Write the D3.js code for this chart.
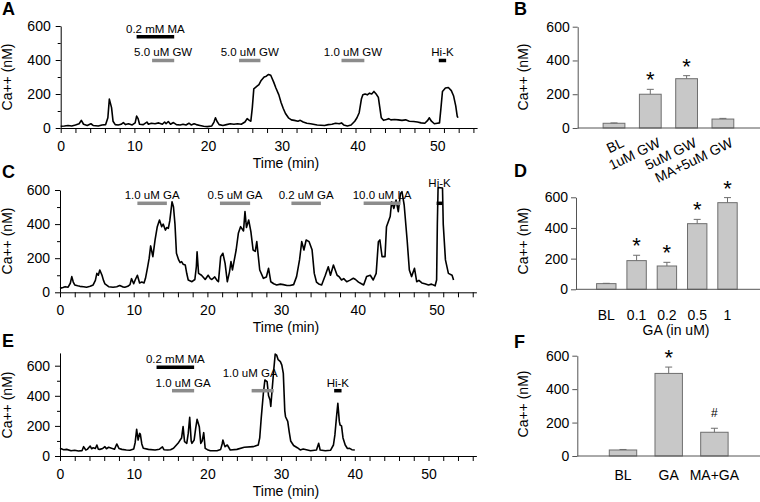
<!DOCTYPE html>
<html><head><meta charset="utf-8">
<script src="https://cdn.jsdelivr.net/npm/d3@7"></script>
<style>
body{margin:0;background:#fff}
svg{display:block;font-family:Arial,"Liberation Sans",sans-serif}
</style></head><body>
<svg id="c" width="760" height="502"></svg>
<script>
// ---------- DATA ----------
const traceA = [[0,10],[0.5,12],[1.0,15],[1.5,12],[2.0,18],[2.5,25],[2.8,45],[3.1,22],[3.6,15],[4.1,25],[4.4,15],[5.1,12],[5.6,18],[6.1,20],[6.4,60],[6.6,170],[6.9,120],[7.1,40],[7.4,20],[7.8,18],[8.2,22],[8.5,32],[8.8,20],[9.2,25],[9.7,18],[10.1,30],[10.3,70],[10.5,55],[10.7,22],[11.2,20],[11.7,35],[11.9,22],[12.3,28],[12.8,25],[13.3,30],[13.8,22],[14.1,35],[14.3,25],[14.6,38],[14.9,22],[15.3,32],[15.7,20],[16.2,18],[16.6,22],[17.0,18],[17.4,28],[17.7,18],[18.1,25],[18.4,20],[18.9,15],[19.4,10],[19.9,8],[20.5,12],[20.8,35],[21.0,60],[21.2,40],[21.5,20],[22.0,15],[22.5,20],[23.0,25],[23.5,22],[24.0,25],[24.5,22],[25.0,35],[25.3,55],[25.6,45],[25.8,40],[26.0,120],[26.2,230],[26.6,245],[26.9,255],[27.2,280],[27.6,300],[27.9,305],[28.2,315],[28.5,310],[28.6,300],[28.9,270],[29.2,235],[29.6,195],[29.9,150],[30.2,115],[30.5,85],[30.9,60],[31.3,48],[31.7,45],[32.2,40],[32.5,45],[32.9,35],[33.4,28],[33.9,25],[34.8,18],[35.8,15],[36.3,20],[36.8,22],[37.3,28],[37.8,25],[38.1,30],[38.4,18],[38.9,12],[39.4,18],[39.9,40],[40.2,60],[40.5,90],[40.8,170],[41.0,195],[41.3,200],[41.6,195],[41.9,205],[42.2,200],[42.5,215],[42.8,200],[43.1,180],[43.3,120],[43.5,60],[43.8,45],[44.2,50],[44.5,55],[44.8,48],[45.3,50],[45.8,48],[46.3,45],[46.8,48],[47.3,40],[47.9,38],[48.4,35],[48.9,30],[49.4,28],[49.8,45],[50.0,60],[50.3,40],[50.7,25],[51.1,28],[51.4,30],[51.6,120],[51.8,215],[52.2,235],[52.6,238],[53.0,220],[53.3,190],[53.6,130],[53.8,70],[53.9,60]];

const traceC = [[0,23],[0.4,28],[0.7,33],[1.1,30],[1.4,53],[1.6,92],[1.8,60],[2.0,43],[2.4,38],[2.7,35],[3.2,33],[3.6,30],[4.1,35],[4.5,43],[4.8,70],[5.0,111],[5.2,100],[5.4,131],[5.7,100],[5.9,70],[6.1,49],[6.6,33],[7.2,30],[7.7,33],[8.1,40],[8.5,32],[8.8,30],[9.2,35],[9.5,45],[9.7,80],[10.0,50],[10.2,72],[10.5,100],[10.8,55],[11.1,60],[11.4,55],[11.6,82],[11.9,150],[12.1,200],[12.3,272],[12.6,209],[12.9,307],[13.2,385],[13.5,424],[13.8,385],[14.0,400],[14.3,365],[14.5,380],[14.7,375],[14.9,420],[15.2,531],[15.4,500],[15.6,400],[15.8,229],[16.1,190],[16.3,174],[16.5,180],[16.7,165],[17.0,160],[17.2,110],[17.4,72],[17.9,62],[18.3,75],[18.5,150],[18.6,238],[18.8,111],[19.2,100],[19.5,85],[19.7,75],[20.1,100],[20.4,80],[20.6,75],[21.0,90],[21.3,70],[21.5,62],[21.8,209],[22.1,229],[22.4,170],[22.7,62],[23.0,120],[23.2,180],[23.4,131],[23.9,248],[24.2,346],[24.5,385],[24.9,360],[25.1,473],[25.3,380],[25.6,424],[25.9,356],[26.2,248],[26.5,240],[26.7,297],[27.1,131],[27.6,82],[28.0,90],[28.3,141],[28.6,62],[29.0,50],[29.4,43],[29.9,48],[30.3,45],[30.8,40],[31.2,40],[31.7,45],[32.1,92],[32.5,190],[32.8,297],[33.1,248],[33.4,307],[33.8,297],[34.2,250],[34.5,111],[34.8,60],[35.1,49],[35.5,43],[36.0,100],[36.4,150],[36.7,100],[37.1,160],[37.6,100],[37.9,90],[38.2,72],[38.5,80],[38.9,62],[39.3,70],[39.8,82],[40.1,75],[40.5,60],[40.9,50],[41.2,43],[41.6,92],[42.1,100],[42.5,72],[42.9,111],[43.2,297],[43.4,307],[43.7,209],[44.1,209],[44.3,385],[44.8,444],[45.0,531],[45.3,492],[45.6,541],[45.9,473],[46.2,580],[46.4,590],[46.7,512],[47.1,307],[47.4,131],[47.7,92],[48.1,141],[48.4,62],[48.7,70],[49.1,55],[49.5,50],[50.0,43],[50.4,48],[50.9,38],[51.1,72],[51.2,400],[51.3,615],[51.9,612],[52.0,400],[52.3,190],[52.7,111],[53.2,100],[53.4,72]];

const traceE = [[0,51],[0.5,42],[0.9,44],[1.5,35],[2.0,38],[2.5,33],[3.0,36],[3.2,62],[3.5,40],[3.7,44],[4.1,66],[4.3,48],[4.5,55],[4.8,50],[5.0,73],[5.2,45],[5.4,44],[5.8,50],[6.1,62],[6.3,48],[6.6,58],[7.0,51],[7.4,45],[7.7,80],[8.0,50],[8.4,44],[9.0,40],[9.5,38],[10.0,46],[10.2,90],[10.4,177],[10.6,106],[10.8,150],[10.9,146],[11.1,80],[11.3,51],[12.0,44],[12.9,40],[13.5,45],[13.9,60],[14.1,42],[14.6,40],[15.0,42],[15.4,51],[15.8,73],[16.1,90],[16.3,106],[16.5,120],[16.7,195],[16.9,95],[17.2,84],[17.4,150],[17.6,257],[17.8,100],[17.9,84],[18.2,106],[18.4,180],[18.6,244],[18.9,195],[19.1,84],[19.3,100],[19.5,155],[19.7,51],[20.0,42],[20.4,35],[21.3,35],[21.8,44],[22.0,80],[22.1,106],[22.3,75],[22.4,62],[22.7,73],[23.1,40],[24.0,44],[25.0,58],[26.2,62],[26.9,73],[27.1,120],[27.3,250],[27.6,420],[27.8,505],[28.1,494],[28.3,400],[28.5,372],[28.6,330],[28.8,450],[29.0,571],[29.2,677],[29.4,670],[29.6,640],[29.9,627],[30.1,604],[30.3,549],[30.5,300],[30.6,261],[30.9,230],[31.1,160],[31.3,100],[31.7,70],[32.2,55],[32.6,40],[33.0,46],[34.0,35],[34.8,40],[35.1,84],[35.3,40],[36.0,35],[36.7,38],[37.1,73],[37.3,140],[37.5,250],[37.7,350],[37.9,230],[38.0,206],[38.2,200],[38.4,120],[38.7,73],[39.0,50],[39.3,51],[39.6,42],[40.0,40]];

// treatment annotations: label, start (min), end (min), kind
const annA = [
  {label:"0.2 mM MA", t0:10.3, t1:15.4, kind:"block"},
  {label:"5.0 uM GW", t0:12.4, t1:15.4, kind:"drug"},
  {label:"5.0 uM GW", t0:24.2, t1:27.1, kind:"drug"},
  {label:"1.0 uM GW", t0:38.1, t1:41.2, kind:"drug"},
  {label:"Hi-K", t0:51.3, t1:52.3, kind:"block"}
];
const annC = [
  {label:"1.0 uM GA", t0:10.5, t1:14.5, kind:"drug"},
  {label:"0.5 uM GA", t0:21.7, t1:25.8, kind:"drug"},
  {label:"0.2 uM GA", t0:31.4, t1:35.4, kind:"drug"},
  {label:"10.0 uM LA", t0:41.2, t1:46.2, kind:"drug"},
  {label:"Hi-K", t0:51.1, t1:51.9, kind:"block"}
];
const annE = [
  {label:"0.2 mM MA", t0:13.1, t1:18.2, kind:"block"},
  {label:"1.0 uM GA", t0:15.2, t1:18.2, kind:"drug"},
  {label:"1.0 uM GA", t0:26.0, t1:29.0, kind:"drug"},
  {label:"Hi-K", t0:37.2, t1:38.2, kind:"block"}
];

const xTicks = [0,10,20,30,40,50];
const yTicks = [0,200,400,600];

const catsB = ["BL","1uM GW","5uM GW","MA+5uM GW"];
const valsB = [28,200,292,53];
const errB  = [30,229,310,57];
const markB = ["","*","*",""];

const catsD = ["BL","0.1","0.2","0.5","1"];
const valsD = [37,187,152,428,565];
const errD  = [39,222,176,456,598];
const markD = ["","*","*","*","*"];

const catsF = ["BL","GA","MA+GA"];
const valsF = [36,494,142];
const errF  = [39,532,166];
const markF = ["","*","#"];

// ---------- DRAWING ----------
const svg = d3.select("#c");
const FONT = 14;
const annColor = {block:"#000", drug:"#8c8c8c"};

function styleAxis(g, color){
  g.attr("font-family","Arial, 'Liberation Sans', sans-serif").attr("font-size",FONT);
  g.selectAll("text").attr("fill","#000");
  g.selectAll("line,path").attr("stroke",color).attr("stroke-width",1);
}

function tracePanel(cfg){
  const x = d3.scaleLinear().domain([0,56.5]).range([cfg.x0, cfg.x0 + 56.5*cfg.pxMin]);
  const y = d3.scaleLinear().domain([0,cfg.yTop]).range([cfg.y0, cfg.y0 - cfg.yTop*cfg.pxVal]);
  const g = svg.append("g");
  const minorX = d3.range(0,57,2);
  const gx = g.append("g").attr("transform",`translate(0,${cfg.y0})`)
    .call(d3.axisBottom(x).tickValues(minorX).tickSize(5).tickSizeOuter(0).tickPadding(8)
      .tickFormat(d => xTicks.includes(d) ? d : ""));
  styleAxis(gx,"#000");
  if(cfg.labelNudge){
    gx.selectAll(".tick text").attr("dx", d => cfg.labelNudge[d] || 0);
  }
  const gy = g.append("g").attr("transform",`translate(${cfg.x0},0)`)
    .call(d3.axisLeft(y).tickValues(d3.range(0,601,100)).tickSize(5).tickSizeOuter(0).tickPadding(5)
      .tickFormat(d => yTicks.includes(d) ? d : ""));
  styleAxis(gy,"#000");
  gy.selectAll(".tick").filter(d => !yTicks.includes(d)).select("line").attr("x2",-3);

  g.append("path").datum(cfg.data)
    .attr("d", d3.line().x(d=>x(d[0])).y(d=>y(d[1])))
    .attr("fill","none").attr("stroke","#000").attr("stroke-width",1.6)
    .attr("stroke-linejoin","round");

  cfg.ann.forEach((a,i) => {
    const L = cfg.annLayout[i];
    g.append("line").attr("x1",x(a.t0)).attr("x2",x(a.t1))
      .attr("y1",L.barY).attr("y2",L.barY)
      .attr("stroke",annColor[a.kind]).attr("stroke-width",3.5);
    const tc = L.textT !== undefined ? L.textT : (a.t0+a.t1)/2;
    g.append("text").attr("x",x(tc)).attr("y",L.textY)
      .attr("text-anchor","middle").attr("font-size",11.5).text(a.label);
  });

  g.append("text").attr("x",286).attr("y",cfg.y0+40).attr("text-anchor","middle")
    .attr("font-size",FONT).text("Time (min)");
  g.append("text").attr("transform",`translate(12,${cfg.yMid}) rotate(-90)`)
    .attr("text-anchor","middle").attr("font-size",FONT).text("Ca++ (nM)");
  g.append("text").attr("x",2).attr("y",cfg.letterY).attr("font-size",18)
    .attr("font-weight","bold").text(cfg.letter);
}

function barPanel(cfg){
  const n = cfg.cats.length;
  const x = d3.scaleLinear().domain([0,n+1]).range([cfg.x0, cfg.x0 + (n+1)*cfg.step]);
  const y = d3.scaleLinear().domain([0,600]).range([cfg.y0, cfg.y0 - 600*cfg.pxVal]);
  const g = svg.append("g");
  const w = cfg.step*cfg.barFrac;
  const idx = d3.range(n);
  g.selectAll("rect.bar").data(idx).join("rect")
    .attr("x", i => x(i+1)-w/2).attr("width", w)
    .attr("y", i => y(cfg.vals[i])).attr("height", i => y(0)-y(cfg.vals[i]))
    .attr("fill","#c8c8c8").attr("stroke","#6e6e6e").attr("stroke-width",1);
  g.selectAll("line.err").data(idx).join("line")
    .attr("x1", i => x(i+1)).attr("x2", i => x(i+1))
    .attr("y1", i => y(cfg.vals[i])).attr("y2", i => y(cfg.err[i]))
    .attr("stroke","#6e6e6e").attr("stroke-width",1);
  g.selectAll("line.cap").data(idx).join("line")
    .attr("x1", i => x(i+1)-3.5).attr("x2", i => x(i+1)+3.5)
    .attr("y1", i => y(cfg.err[i])).attr("y2", i => y(cfg.err[i]))
    .attr("stroke","#6e6e6e").attr("stroke-width",1);
  idx.forEach(i => {
    const m = cfg.marks[i];
    if(!m) return;
    if(m === "*"){
      g.append("text").attr("x",x(i+1)).attr("y",y(cfg.err[i])-2)
        .attr("text-anchor","middle").attr("font-size",22).text("*");
    } else {
      g.append("text").attr("x",x(i+1)).attr("y",y(cfg.err[i])-11)
        .attr("text-anchor","middle").attr("font-size",12).text(m);
    }
  });
  // axes
  g.append("line").attr("x1",cfg.x0).attr("x2",760).attr("y1",cfg.y0).attr("y2",cfg.y0)
    .attr("stroke","#555").attr("stroke-width",1);
  const gy = g.append("g").attr("transform",`translate(${cfg.x0},0)`)
    .call(d3.axisLeft(y).tickValues(yTicks).tickSize(5).tickSizeOuter(0).tickPadding(3));
  styleAxis(gy,"#555");
  // category labels
  if(cfg.rotate){
    idx.forEach(i => {
      g.append("text").attr("transform",`translate(${x(i+1)+11},${cfg.y0+18}) rotate(-26)`)
        .attr("text-anchor","end").attr("font-size",FONT).text(cfg.cats[i]);
    });
  } else {
    idx.forEach(i => {
      g.append("text").attr("x",x(i+1)).attr("y",cfg.y0+cfg.catDy)
        .attr("text-anchor","middle").attr("font-size",FONT).text(cfg.cats[i]);
    });
  }
  if(cfg.xTitle){
    g.append("text").attr("x",676).attr("y",cfg.y0+46).attr("text-anchor","middle")
      .attr("font-size",FONT).text(cfg.xTitle);
  }
  g.append("text").attr("transform",`translate(528,${cfg.yMid}) rotate(-90)`)
    .attr("text-anchor","middle").attr("font-size",FONT).text("Ca++ (nM)");
  g.append("text").attr("x",514).attr("y",cfg.letterY).attr("font-size",18)
    .attr("font-weight","bold").text(cfg.letter);
}

tracePanel({data:traceA, ann:annA, x0:60.7, pxMin:7.37, y0:128, pxVal:102/600, yTop:600, yMid:77,
  letter:"A", letterY:15, labelNudge:{40:2, 50:8},
  annLayout:[{barY:36.7,textY:33},{barY:60.5,textY:56},{barY:60.5,textY:56},{barY:60.5,textY:56},{barY:60.5,textY:56}]});
tracePanel({data:traceC, ann:annC, x0:60, pxMin:7.37, y0:292.3, pxVal:102.3/600, yTop:600, yMid:241,
  letter:"C", letterY:178, labelNudge:{40:3, 50:8},
  annLayout:[{barY:203.3,textY:199},{barY:203.3,textY:199},{barY:203.3,textY:199},{barY:203.3,textY:199},{barY:203.3,textY:187}]});
tracePanel({data:traceE, ann:annE, x0:60, pxMin:7.37, y0:456, pxVal:90.3/600, yTop:685, yMid:405,
  letter:"E", letterY:347,
  annLayout:[{barY:367.3,textY:363},{barY:390.7,textY:386.7},{barY:390.7,textY:376.7,textT:25.8},{barY:390.7,textY:386.7}]});

barPanel({cats:catsB, vals:valsB, err:errB, marks:markB, x0:577.7, step:36.3, barFrac:0.6,
  y0:128, pxVal:101.3/600, rotate:true, yMid:77, letter:"B", letterY:15});
barPanel({cats:catsD, vals:valsD, err:errD, marks:markD, x0:576, step:30.3, barFrac:0.64,
  y0:289.3, pxVal:92/600, rotate:false, catDy:31, xTitle:"GA (in uM)", yMid:241, letter:"D", letterY:177});
barPanel({cats:catsF, vals:valsF, err:errF, marks:markF, x0:577.3, step:45.7, barFrac:0.6,
  y0:456, pxVal:100.3/600, rotate:false, catDy:24, yMid:404, letter:"F", letterY:348});
</script>
</body></html>
